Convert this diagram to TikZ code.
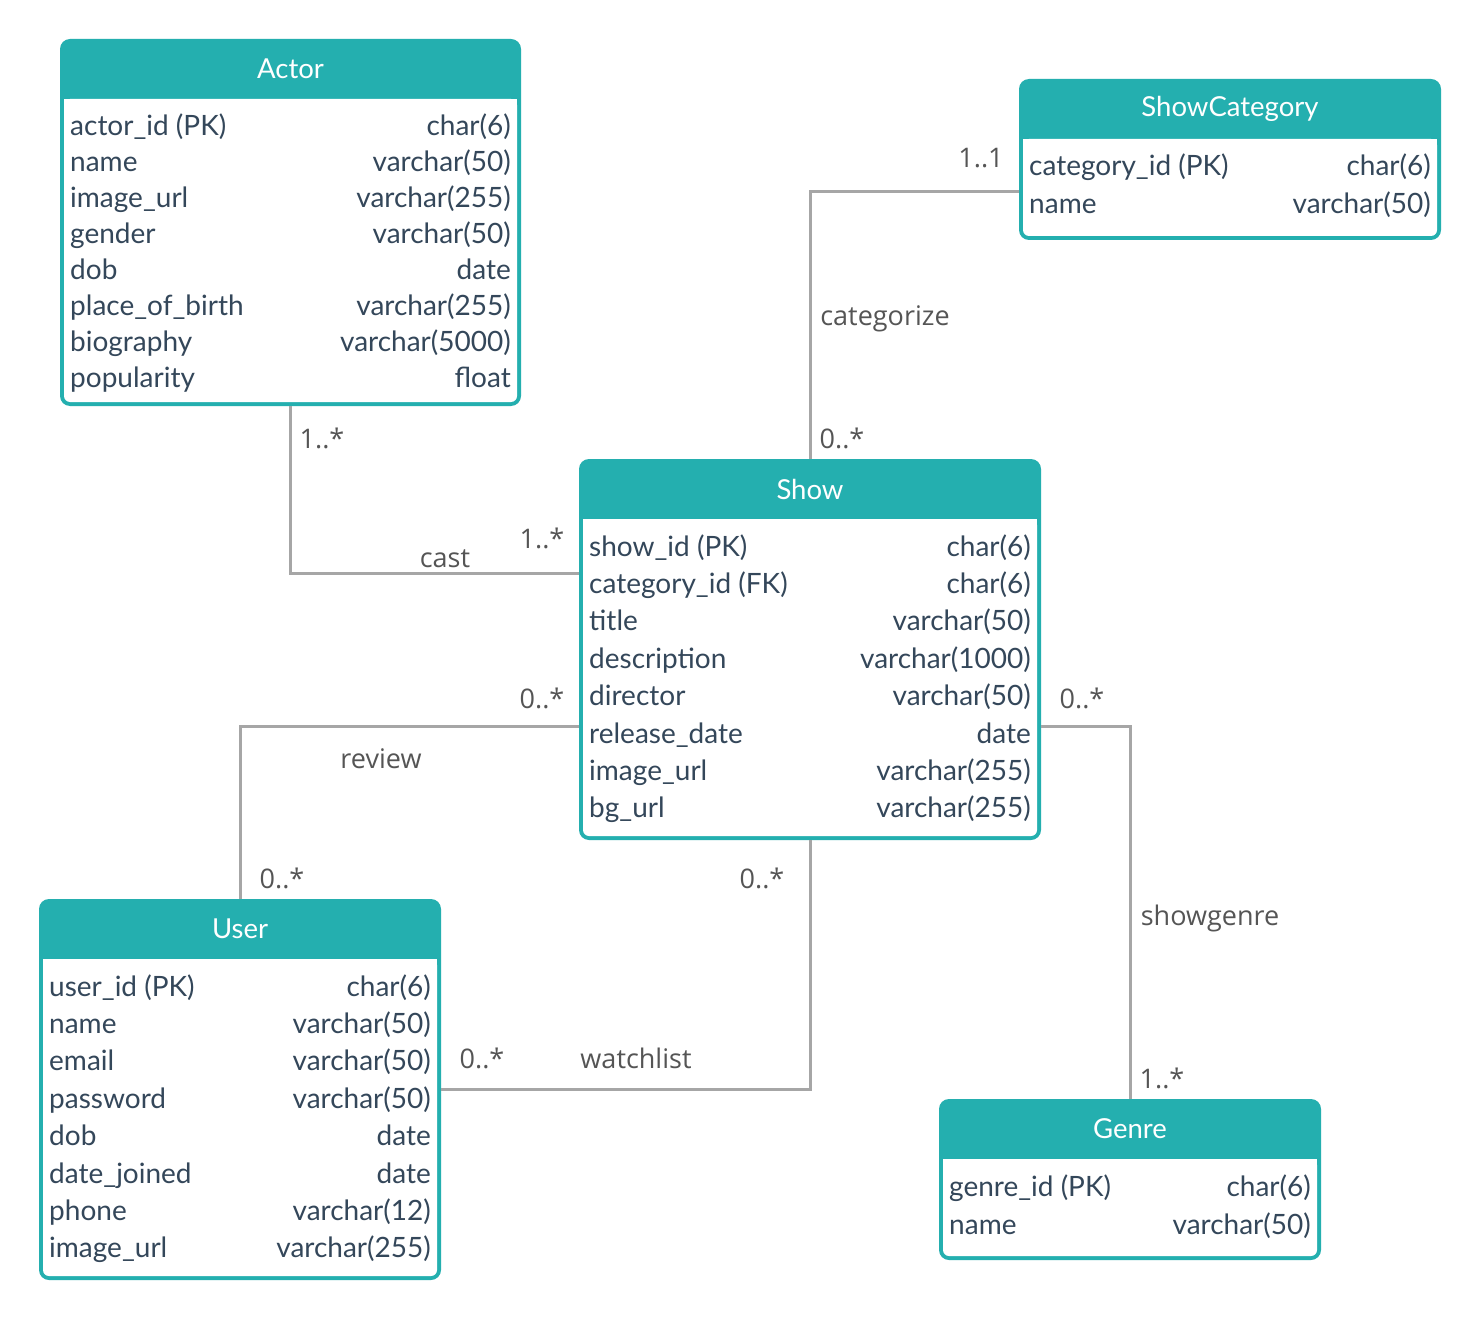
\documentclass[tikz,border=0pt]{standalone}
\usepackage{fontspec}
\setmainfont{Lato}
\newfontfamily\lblfont{Open Sans}
\usetikzlibrary{calc}
\definecolor{hdr}{HTML}{24AFAF}
\definecolor{fldc}{HTML}{34475A}
\definecolor{lblc}{HTML}{555555}
\definecolor{linec}{HTML}{A6A6A6}
\tikzset{
  fld/.style={inner sep=0pt, text=fldc, font=\fontsize{28}{32}\selectfont},
  ttl/.style={inner sep=0pt, text=white, font=\fontsize{27.5}{30}\selectfont},
  lbl/.style={inner sep=0pt, text=lblc, font=\lblfont\fontsize{27}{30}\selectfont},
  conn/.style={draw=linec, line width=3pt},
  tabbox/.style={inner sep=0pt, draw=none}
}
\newcommand\ertab[9]{% name,x1,y1,x2,y2,title,firstrow,spacing,rows
  \fill[hdr, rounded corners=10pt] (#2,#3) rectangle (#4,#5);
  \fill[white, rounded corners=6pt] (#2+4,#3+60) rectangle (#4-4,#5-4);
  \fill[white] (#2+4,#3+60) rectangle (#4-4,#3+70);
  \node[tabbox, anchor=north west, minimum width={#4pt-#2pt}, minimum height={#5pt-#3pt}] (#1) at (#2,#3) {};
  \node[ttl] (#1-t) at ({(#2+#4)/2},#3+30) {#6};
  \foreach \a/\b [count=\i] in {#9} {
    \node[fld, anchor=base west] (#1-f\i) at (#2+10,{#7+10+(\i-1)*#8}) {\a};
    \node[fld, anchor=base east] (#1-y\i) at (#4-10,{#7+10+(\i-1)*#8}) {\b};
  }
}
\begin{document}
\begin{tikzpicture}[x=1pt,y=-1pt]
\useasboundingbox[fill=white] (0,0) rectangle (1480,1321);

\ertab{actor}{60}{39}{521}{406}{Actor}{126}{36}{actor\_id (PK)/char(6), name/varchar(50), image\_url/varchar(255), gender/varchar(50), dob/date, place\_of\_birth/varchar(255), biography/varchar(5000), popularity/float}

\ertab{scat}{1019}{79}{1441}{240}{ShowCategory}{166}{38}{category\_id (PK)/char(6), name/varchar(50)}

\ertab{show}{579}{459}{1041}{840}{Show}{546}{37.4}{show\_id (PK)/char(6), category\_id (FK)/char(6), title/varchar(50), description/varchar(1000), director/varchar(50), release\_date/date, image\_url/varchar(255), bg\_url/varchar(255)}

\ertab{user}{39}{899}{441}{1280}{User}{986}{37.4}{user\_id (PK)/char(6), name/varchar(50), email/varchar(50), password/varchar(50), dob/date, date\_joined/date, phone/varchar(12), image\_url/varchar(255)}

\ertab{genre}{939}{1099}{1321}{1260}{Genre}{1186}{38}{genre\_id (PK)/char(6), name/varchar(50)}

% connectors
\draw[conn] (actor.south) |- ($(show.north west)+(0,114)$);
\draw[conn] ($(scat.north west)+(0,113)$) -| (show.north);
\draw[conn] ($(show.north west)+(0,267)$) -| (user.north);
\draw[conn] (show.south) |- ($(user.north east)+(0,190)$);
\draw[conn] ($(show.north east)+(0,267)$) -| (genre.north);

% labels
\node[lbl] (l1) at (322,438) {1..*};
\node[lbl] (l2) at (445,559) {cast};
\node[lbl] (l3) at (542,538) {1..*};
\node[lbl] (l4) at (981,158) {1..1};
\node[lbl] (l5) at (885,319) {categorize};
\node[lbl] (l6) at (842,438) {0..*};
\node[lbl] (l7) at (542,698) {0..*};
\node[lbl] (l8) at (381,759) {review};
\node[lbl] (l9) at (282,878) {0..*};
\node[lbl] (l10) at (762,878) {0..*};
\node[lbl] (l11) at (636,1058) {watchlist};
\node[lbl] (l12) at (482,1058) {0..*};
\node[lbl] (l13) at (1082,698) {0..*};
\node[lbl] (l14) at (1210,918) {showgenre};
\node[lbl] (l15) at (1162,1078) {1..*};
\end{tikzpicture}
\end{document}
